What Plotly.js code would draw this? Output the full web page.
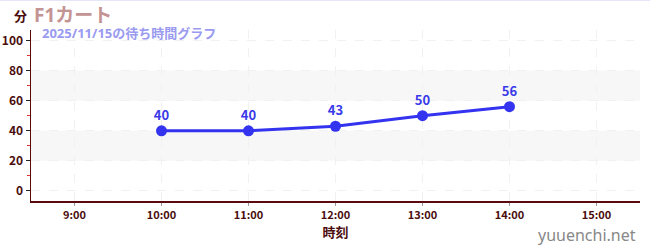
<!DOCTYPE html>
<html>
<head>
<meta charset="utf-8">
<script src="https://cdn.plot.ly/plotly-3.0.1.min.js"></script>
<style>
html,body{margin:0;padding:0;background:#fff;}
#chart{width:650px;height:249px;border-top:1px solid #e6e6fa;}
</style>
</head>
<body>
<div id="chart"></div>
<script>
const titleText = "F1カート";
const subtitleText = "2025/11/15の待ち時間グラフ";
const times = ["2025-11-15 10:00", "2025-11-15 11:00", "2025-11-15 12:00", "2025-11-15 13:00", "2025-11-15 14:00"];
const waits = [40, 40, 43, 50, 56];
const xRange = ["2025-11-15 08:30", "2025-11-15 15:30"];
const yTicks = [0, 20, 40, 60, 80, 100];
const bands = [[20, 40], [60, 80]];

const F = '"Noto Sans CJK JP", "Noto Sans", sans-serif';
const FT = '"Noto Sans", "Noto Sans CJK JP", sans-serif';
const dark = '#4a0d0d';

const trace = {
  x: times, y: waits, type: 'scatter', mode: 'lines+markers+text',
  text: waits.map(String), textposition: 'top center',
  textfont: {family: F, size: 13, color: '#3a3ae8', weight: 'bold'},
  line: {color: '#3333f0', width: 3},
  marker: {color: '#3333f0', size: 11},
  hoverinfo: 'skip', cliponaxis: false
};

const shapes = bands.map(b => ({
  type: 'rect', xref: 'paper', yref: 'y', x0: 0, x1: 1, y0: b[0], y1: b[1],
  fillcolor: '#f7f7f7', line: {width: 0}, layer: 'below'
}));

const layout = {
  width: 650, height: 249,
  margin: {l: 31, r: 10, t: 29, b: 49},
  paper_bgcolor: '#fff', plot_bgcolor: '#fff',
  showlegend: false,
  font: {family: F, color: dark},
  title: {text: titleText, xref: 'container', yref: 'container', x: 34/650, xanchor: 'left',
          y: 1 - 14/249, yanchor: 'middle', font: {family: FT, size: 19, color: '#c49494', weight: 'bold'}},
  xaxis: {
    type: 'date', range: xRange, dtick: 3600000, tickformat: '%-H:%M',
    showline: true, linecolor: '#5a0a0a', linewidth: 1.5,
    ticks: 'outside', ticklen: 3, tickcolor: '#999',
    showgrid: true, gridcolor: '#f1f1f1', griddash: 'dash', zeroline: false,
    tickfont: {family: F, size: 11, color: dark, weight: 'bold'},
    title: {text: '時刻', font: {family: F, size: 13, color: dark, weight: 'bold'}, standoff: 7},
    fixedrange: true
  },
  yaxis: {
    range: [-6.7, 107], tickvals: yTicks,
    showline: true, linecolor: '#5a0a0a', linewidth: 1.5,
    ticks: 'outside', ticklen: 4, tickcolor: '#222',
    minor: {dtick: 10, ticks: 'outside', ticklen: 3, tickcolor: '#e03030', showgrid: false},
    showgrid: true, gridcolor: '#f1f1f1', griddash: 'dash', zeroline: false,
    tickfont: {family: F, size: 12, color: dark, weight: 'bold'},
    fixedrange: true
  },
  shapes: shapes,
  annotations: [
    {text: subtitleText, xref: 'paper', yref: 'paper', x: (40-31)/609, xanchor: 'left',
     y: (200-33)/170, yanchor: 'middle', showarrow: false,
     font: {family: FT, size: 13, color: '#9a9af0', weight: 'bold'}},
    {text: '分', xref: 'paper', yref: 'paper', x: (20-31)/609, xanchor: 'center',
     y: (200-16)/170, yanchor: 'middle', showarrow: false,
     font: {family: F, size: 13, color: dark, weight: 'bold'}},
    {text: 'yuuenchi.net', xref: 'paper', yref: 'paper', x: (638-31)/609, xanchor: 'right',
     y: (200-234)/170, yanchor: 'middle', showarrow: false,
     font: {family: '"Noto Sans", sans-serif', size: 16, color: '#888'}}
  ]
};

Plotly.newPlot('chart', [trace], layout, {displayModeBar: false, staticPlot: true});
</script>
</body>
</html>
